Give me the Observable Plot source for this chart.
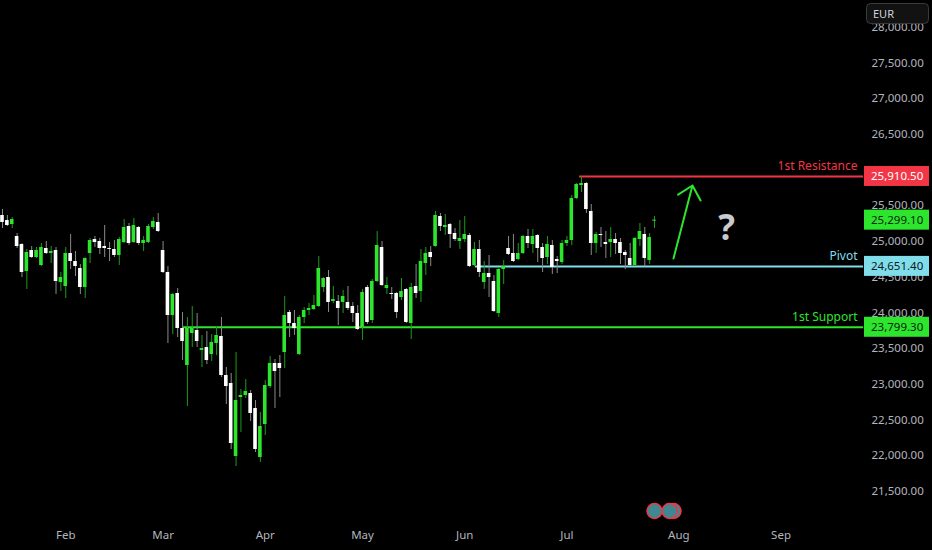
<!DOCTYPE html>
<html><head><meta charset="utf-8">
<script src="https://cdn.jsdelivr.net/npm/d3@7"></script>
<script src="https://cdn.jsdelivr.net/npm/@observablehq/plot@0.6"></script>
<style>
html,body{margin:0;padding:0;background:#000;overflow:hidden}
</style></head><body><div id="chart"></div>
<script>
// ---- Data (daily candles, bar index 0..134) ----
const opens = [
25364,25294,25238,25070,24958,24580,24874,24776,24664,24902,
24832,24874,24426,24370,24832,24720,24622,24356,24832,25028,
25000,24930,24902,24888,24804,24986,25210,24986,25196,24972,
24986,25196,25266,24874,24566,23964,24272,23782,23264,23712,
23754,23474,23516,23418,23572,23670,23124,23012,21990,22816,
22844,22872,22662,21976,22438,22970,23292,23292,23446,24006,
23852,23418,23936,24034,24048,24090,24356,24496,24160,24160,
24146,24146,24090,23992,23796,24356,23894,24440,24916,24342,
24272,24272,24216,24328,23852,24370,24300,24692,24846,24930,
25350,25196,25238,25112,25000,25028,25084,24664,24888,24426,
24552,24440,23992,24608,24902,24832,24748,24832,25070,24958,
25084,24916,24776,24944,24748,24706,24972,25014,25602,25784,
25812,25420,24972,25098,24986,24986,25028,24986,24846,24762,
24664,25028,25098,24734,25285];
const highs = [
25448,25364,25336,25112,24970,24888,24930,24916,24972,25000,
24930,24916,24566,24916,25098,24860,24678,24770,25042,25070,
25042,25224,24986,25014,25056,25308,25252,25322,25210,25070,
25238,25336,25392,25000,24650,24272,24342,24006,23936,24090,
23992,23684,23740,23698,23810,23936,23236,23152,23446,22928,
23068,22914,22774,22606,23054,23390,23348,23404,24230,24034,
24034,23964,24076,24132,24244,24790,24495,24594,24370,24244,
24314,24370,24146,24104,24328,24384,24468,25140,25000,24496,
24356,24286,24482,24342,24412,24678,24888,24916,24930,25420,
25392,25378,25252,25182,25294,25350,25112,24986,25014,24720,
24804,24524,24636,24734,25070,25098,24972,25084,25168,25168,
25098,24972,25070,25014,24790,25014,25070,25644,25812,25910,
25826,25518,25126,25196,25140,25196,25112,25042,24874,24972,
25056,25252,25196,25112,25350];
const lows = [
25182,25210,25182,24902,24496,24328,24762,24762,24650,24818,
24692,24258,24300,24202,24608,24510,24258,24202,24692,24916,
24818,24776,24720,24776,24664,24972,24944,24972,24944,24860,
24972,25168,25126,24552,23572,23698,23656,23334,22690,23516,
23516,23236,23278,23320,23404,23096,22718,22088,21850,22326,
22802,22480,22046,21906,22284,22942,22662,22816,23222,23656,
23684,23404,23852,23964,24034,24076,24286,24006,24132,23824,
23992,24034,23866,23754,23614,23838,23852,24426,24370,24258,
24188,23922,24174,23852,23628,24202,24146,24524,24650,24920,
25140,25084,24902,25000,24888,24986,24636,24650,24496,24328,
24216,24006,23936,24398,24804,24706,24734,24818,24902,24832,
24706,24566,24678,24538,24552,24678,24930,24944,25588,25686,
25392,24804,24832,24916,24762,24776,24818,24678,24608,24650,
24650,24930,24650,24678,25182];
const closes = [
25266,25224,25308,24930,24566,24846,24776,24874,24916,24832,
24860,24440,24496,24832,24720,24650,24356,24762,25014,24986,
24902,24902,24888,24804,25028,25196,24972,25224,24972,25014,
25210,25280,25140,24566,23964,24258,23782,23600,23782,23782,
23600,23502,23334,23586,23684,23124,22970,22172,22774,22844,
22900,22592,22088,22410,22984,23292,23180,23222,23964,23852,
23782,23936,24034,24062,24104,24622,24482,24146,24188,24062,
24230,24062,23992,23768,24286,23866,24440,24944,24384,24384,
24258,24006,24300,23866,24356,24272,24720,24832,24776,25364,
25210,25224,25098,25028,25042,25098,24650,24888,24566,24552,
24496,24020,24608,24650,24818,24720,24832,25070,24972,25070,
24902,24762,24958,24636,24720,24972,25014,25602,25798,25812,
25448,24972,25098,25084,24958,25028,24972,24832,24804,24664,
25042,25140,24762,25056,25299.1];

// Month labels at the first trading bar of each month
const monthNames = ["Feb","Mar","Apr","May","Jun","Jul","Aug","Sep"];
const monthIdx   = [13, 33, 54, 74, 95, 116, 139, 160];
// Price axis ticks
const yTicks = d3.range(21500, 28001, 500);

// Levels
const levelNames  = ["1st Resistance", "Pivot", "1st Support"];
const levelValues = [25910.5, 24651.4, 23799.3];
const levelStart  = [118.6, 97.2, 37.2];
const levelColors = ["#f23645", "#80deea", "#2ee52e"];
const levelText   = ["#ffffff", "#0b1a1c", "#06260a"];
const lastPrice = 25299.1;

// Annotations
const arrowFrom = {i: 137.9, p: 24762};
const arrowTo   = {i: 141.8, p: 25784};
const questionAt = {i: 148.8, p: 25182};
const eventIdx = [137.9, 137.1, 134.0];

// ---- Build ----
const GREEN = "#2ee52e", GREEN_WICK = "#1d9a1d", WHITE = "#ffffff", WHITE_WICK = "#8a8a8a";
const candles = opens.map((o, i) => ({i, o, h: highs[i], l: lows[i], c: closes[i], up: closes[i] >= o}));
const levels = levelNames.map((name, k) => ({name, value: levelValues[k], start: levelStart[k], color: levelColors[k], text: levelText[k]}));
const monthMap = new Map(monthIdx.map((d, k) => [d, monthNames[k]]));
const xMax = 176.95;

const plot = Plot.plot({
  width: 932, height: 550,
  marginTop: 0, marginBottom: 28, marginLeft: 0, marginRight: 69,
  style: {background: "#000", color: "#b2b5be", fontFamily: "'Noto Sans', sans-serif", fontSize: "11.5px"},
  x: {domain: [-0.411, xMax], axis: null},
  y: {domain: [21066, 28374], axis: null},
  marks: [
    Plot.axisY({anchor: "right", ticks: yTicks, tickSize: 0, tickPadding: 8, tickFormat: d3.format(",.2f"), label: null}),
    Plot.axisX({anchor: "bottom", ticks: monthIdx, tickSize: 0, tickPadding: 8, tickFormat: d => monthMap.get(d), label: null}),
    Plot.ruleY(levels, {y: "value", x1: "start", x2: xMax, stroke: "color", strokeWidth: 2}),
    Plot.text(levels, {y: "value", text: "name", frameAnchor: "right", textAnchor: "end", dx: -6, dy: -10, fill: "color", fontSize: 12}),
    Plot.ruleX(candles, {x: "i", y1: "l", y2: "h", stroke: d => d.up ? GREEN_WICK : WHITE_WICK, strokeWidth: 1}),
    Plot.rect(candles, {
      x1: d => d.i - 0.37, x2: d => d.i + 0.37,
      y1: d => Math.min(d.o, d.c),
      y2: d => Math.max(d.o, d.c, Math.min(d.o, d.c) + 14),
      fill: d => d.up ? GREEN : WHITE
    }),
    Plot.arrow([{a: arrowFrom, b: arrowTo}], {
      x1: d => d.a.i, y1: d => d.a.p, x2: d => d.b.i, y2: d => d.b.p,
      stroke: GREEN, strokeWidth: 2, headLength: 12.75, headAngle: 86
    }),
    Plot.text([questionAt], {x: "i", y: "p", text: () => "?", fontSize: 35, fontWeight: "bold", fill: "#c9cbd0"}),
    Plot.dot(eventIdx, {x: d => d, frameAnchor: "bottom", dy: -11.5, r: 7.5, fill: "#3f8791", stroke: "#f23645", strokeWidth: 1.5})
  ]
});

document.getElementById("chart").appendChild(plot);

// Price-axis badges, positioned with Plot's own y scale
const svg = d3.select(plot);
const ys = plot.scale("y");
const badges = [
  ...levels.map(l => ({v: l.value, fill: l.color, text: l.text})),
  {v: lastPrice, fill: GREEN, text: "#06260a"}
];
const g = svg.append("g")
  .attr("font-family", "'Noto Sans', sans-serif")
  .attr("font-size", 11.5)
  .attr("text-anchor", "start");
for (const b of badges) {
  const y = ys.apply(b.v);
  g.append("rect").attr("x", 864).attr("y", y - 10).attr("width", 65).attr("height", 20).attr("fill", b.fill);
  g.append("text").attr("x", 871).attr("y", y).attr("dy", "0.35em").attr("text-anchor", "start")
    .attr("fill", b.text).text(d3.format(",.2f")(b.v));
}
// Currency button
g.append("rect").attr("x", 866.5).attr("y", 3.5).attr("width", 62).attr("height", 20).attr("rx", 4)
  .attr("fill", "#121212").attr("stroke", "#3a3a3a");
g.append("text").attr("x", 873).attr("y", 14).attr("dy", "0.35em").attr("text-anchor", "start")
  .attr("font-size", 11).attr("fill", "#d1d4dc").text("EUR");
</script></body></html>
